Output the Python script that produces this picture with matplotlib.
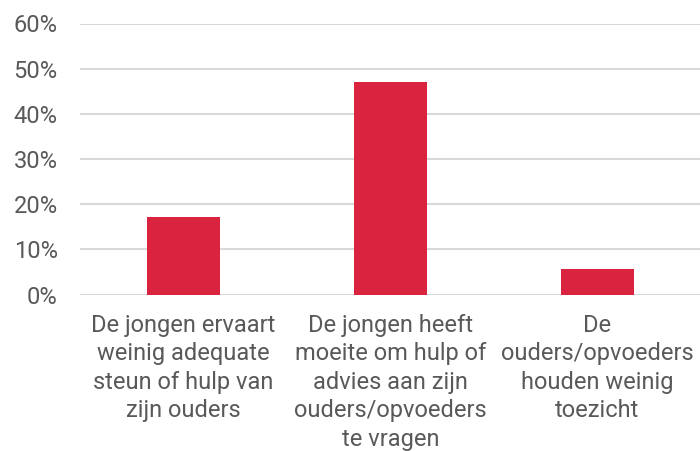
import matplotlib.pyplot as plt
import matplotlib.ticker as ticker

categories = [
    "De jongen ervaart\nweinig adequate\nsteun of hulp van\nzijn ouders",
    "De jongen heeft\nmoeite om hulp of\nadvies aan zijn\nouders/opvoeders\nte vragen",
    "De\nouders/opvoeders\nhouden weinig\ntoezicht",
]
values = [0.172, 0.471, 0.056]
y_ticks = [0, 0.1, 0.2, 0.3, 0.4, 0.5, 0.6]

plt.rcParams['font.family'] = ['Roboto', 'DejaVu Sans']

fig = plt.figure(figsize=(7, 4.51), dpi=100)
ax = fig.add_axes([80 / 700, 1 - 294.5 / 451, 621 / 700, 271 / 451])

x = range(len(categories))
ax.bar(x, values, width=0.357, color='#d9233f', zorder=3)

ax.set_xlim(-0.5, 2.5)
ax.set_ylim(0, 0.6)
ax.set_yticks(y_ticks)
ax.yaxis.set_major_formatter(ticker.FuncFormatter(lambda v, p: f'{v * 100:.0f}%'))
ax.set_xticks(list(x))
ax.set_xticklabels(categories, linespacing=1.3)

ax.grid(axis='y', color='#d9d9d9', linewidth=1.5, zorder=0)
for s in ax.spines.values():
    s.set_visible(False)
ax.tick_params(axis='both', length=0, labelsize=17, colors='#595959')
ax.tick_params(axis='y', pad=16)
ax.tick_params(axis='x', pad=14)

fig.savefig('out.png', dpi=100)
